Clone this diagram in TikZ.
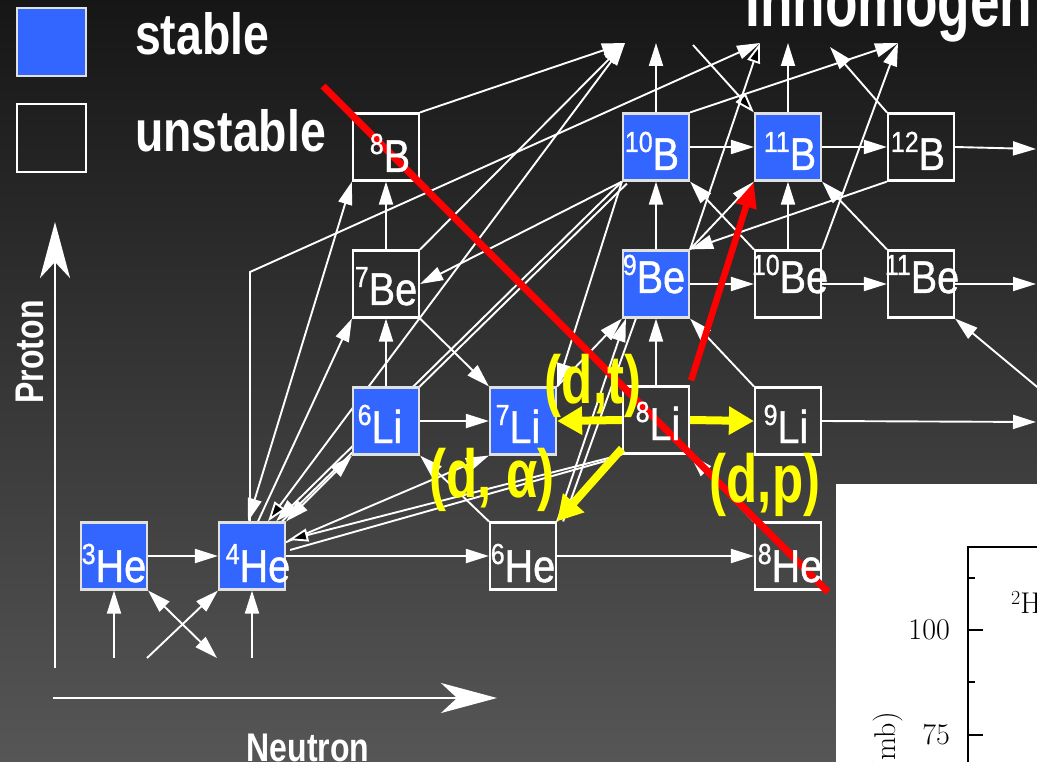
\documentclass[tikz,border=0pt]{standalone}
\usepackage{fontspec}
\newfontfamily\cond[FakeStretch=0.8]{Liberation Sans}
\newfontfamily\ycond[FakeStretch=0.75]{Liberation Sans}
\newfontfamily\tcond[FakeStretch=0.72]{Liberation Sans}
\newfontfamily\nucf[FakeStretch=0.86,FakeBold=1]{Liberation Sans}
\usetikzlibrary{arrows.meta,calc}
\pgfdeclarelayer{back}
\pgfdeclarelayer{lines}
\pgfsetlayers{back,lines,main}
\definecolor{stab}{RGB}{51,102,255}
\definecolor{boxgray}{RGB}{225,225,225}
\definecolor{bgtop}{RGB}{22,22,22}
\definecolor{bgmid}{RGB}{44,44,44}
\definecolor{bgbot}{RGB}{86,86,86}
\definecolor{ylw}{RGB}{255,255,0}
\definecolor{rd}{RGB}{255,0,0}
\newcommand\nucl[2]{\raisebox{18pt}{\fontsize{29}{29}\selectfont #1}{\fontsize{46}{46}\selectfont #2}}
\begin{document}
\begin{tikzpicture}[x=1pt,y=-1pt,
  box/.style={minimum width=66pt,minimum height=67pt,inner sep=0pt,line width=2.2pt},
  sbox/.style={box,fill=stab,draw=boxgray},
  ubox/.style={box,draw=white},
  lab/.style={text=white,anchor=base,inner sep=0pt,font=\nucf},
  con/.style={draw=white,line width=1.9pt},
  ar/.style={con,-{Triangle[length=23pt,width=14pt]}},
  arr/.style={con,{Triangle[length=23pt,width=14pt]}-{Triangle[length=23pt,width=14pt]}},
  bar/.style={con,-{Triangle[length=20pt,width=13pt,fill=black]}},
  yar/.style={draw=ylw,line width=8pt,-{Triangle[length=25pt,width=27pt]}},
  ylab/.style={text=ylw,anchor=base,inner sep=0pt,font=\ycond\bfseries\fontsize{68}{68}\selectfont},
  axis/.style={draw=white,line width=2.2pt,-{Stealth[length=56pt,width=30pt,inset=16pt]}},
  wtxt/.style={text=white,inner sep=0pt,font=\cond\bfseries\fontsize{58}{58}\selectfont},
  atxt/.style={text=white,inner sep=0pt,font=\cond\bfseries\fontsize{40}{40}\selectfont},
  ptxt/.style={text=black,inner sep=0pt,font=\fontsize{30}{30}\selectfont}]
\useasboundingbox (0,0) rectangle (1037,762);
\begin{pgfonlayer}{back}
\shade[top color=bgtop,middle color=bgmid,bottom color=bgbot] (0,0) rectangle (1037,762);
\end{pgfonlayer}

% ---------- nuclide boxes ----------
\node[sbox] (He3) at (114,556) {};
\node[sbox] (He4) at (252,556) {};
\node[ubox] (He6) at (523,556) {};
\node[ubox] (He8) at (788,556) {};
\node[sbox] (Li6) at (386,421) {};
\node[sbox] (Li7) at (523,421) {};
\node[ubox] (Li8) at (656,420) {};
\node[ubox] (Li9) at (788,421) {};
\node[ubox] (Be7) at (386,284) {};
\node[sbox] (Be9) at (656,284) {};
\node[ubox] (Be10) at (788,284) {};
\node[ubox] (Be11) at (921,284) {};
\node[ubox] (B8) at (386,147) {};
\node[sbox] (B10) at (656,147) {};
\node[sbox] (B11) at (788,147) {};
\node[ubox] (B12) at (921,147) {};

% ---------- free ends ----------
\coordinate (t1) at (625,43);
\coordinate (t2) at (656,43);
\coordinate (t3) at (693,45);
\coordinate (t4) at (760,43);
\coordinate (t5) at (788,43);
\coordinate (t6) at (830,47);
\coordinate (t7) at (898,43);
\coordinate (bend) at (250,272);
\coordinate (oB) at (1036,149);
\coordinate (oBe) at (1036,284);
\coordinate (iBe) at (1042,391);
\coordinate (oLi) at (1036,422);
\coordinate (s1) at (114,658);
\coordinate (s2) at (147,658);
\coordinate (s3) at (217,658);
\coordinate (s4) at (252,658);

\begin{pgfonlayer}{lines}
% He row
\draw[ar] (He3.east) -- (He4.west);
\draw[ar] (He4.east) -- (He6.west);
\draw[ar] (He6.east) -- (He8.west);
\draw[ar] (s1) -- (He3.south);
\draw[ar] (s4) -- (He4.south);
\draw[ar] (s2) -- (He4.south west);
\draw[arr] (He3.south east) -- (s3);
% into / out of He4 top
\draw[arr] ($(He4.north)+(-4,0)$) -- (B8.south west);
\draw[ar] ($(He4.north)+(-2,0)$) -- (bend) -- (t4);
\draw[ar] ($(He4.north)+(6,0)$) -- (Be7.south west);
\draw[con,{Triangle[length=20pt,width=13pt,fill=black]}-{Triangle[length=23pt,width=14pt]}] ($(He4.north)+(16,0)$) -- (t1);
\draw[ar] (B10.south west) -- ($(He4.north)+(24,0)$);
\draw[con] ($(B10.south west)+(5,2)$) -- ($(He4.north)+(30,0)$);
\draw[arr] (Li6.south west) -- (He4.north east);
% He4 right fan
\draw[ar] ($(He4.east)+(-2,-13)$) -- (Li7.south west);
\draw[bar] (Li8.south west) -- ($(He4.east)+(2,-16)$);
\draw[con] ($(He4.east)+(4,-6)$) -- ($(Li8.south west)+(-8,4)$);
% Li row
\draw[ar] (Li6.east) -- (Li7.west);
\draw[ar] (He6.north west) -- (Li6.south east);
\draw[ar] (Li9.east) -- (oLi);
\draw[ar] (He8.north west) -- (Li8.south east);
% Be row
\draw[ar] (Li6.north) -- (Be7.south);
\draw[ar] (Be7.south east) -- (Li7.north west);
\draw[ar] (B10.south west) -- (Be7.east);
\draw[ar] (B10.south west) -- (Li7.north east);
\draw[ar] (Li7.north east) -- (Be9.south west);
\draw[ar] (He6.north east) -- ($(Be9.south west)+(4,0)$);
\draw[con] ($(He6.north east)+(6,0)$) -- ($(Be9.south west)+(14,0)$);
\draw[ar] (Li8.north) -- (Be9.south);
\draw[ar] (Li9.north west) -- (Be9.south east);
\draw[ar] (Be9.east) -- (Be10.west);
\draw[ar] (Be10.east) -- (Be11.west);
\draw[ar] (Be11.east) -- (oBe);
\draw[ar] (iBe) -- (Be11.south east);
% B row
\draw[ar] (Be7.north) -- (B8.south);
\draw[ar] (Be9.north) -- (B10.south);
\draw[ar] (Be10.north) -- (B11.south);
\draw[ar] (B10.east) -- (B11.west);
\draw[ar] (B11.east) -- (B12.west);
\draw[ar] (B12.east) -- (oB);
\draw[ar] (Be9.north east) -- (B11.south west);
\draw[ar] (B12.south west) -- (Be9.north east);
\draw[ar] (Be10.north west) -- (B10.south east);
\draw[ar] (Be11.north west) -- (B11.south east);
% to the top
\draw[ar] (B8.north east) -- (t1);
\draw[ar] (Be7.north east) -- (t1);
\draw[ar] (B10.north) -- (t2);
\draw[bar] (t3) -- (B11.north west);
\draw[bar] (Be9.north east) -- (t4);
\draw[ar] (B11.north) -- (t5);
\draw[ar] (B12.north west) -- (t6);
\draw[ar] (B10.north east) -- (t7);
\draw[ar] (Be10.north east) -- (t7);
\end{pgfonlayer}

% ---------- red line ----------
\coordinate (r1) at (323,86);
\coordinate (r2) at (828,592);
\draw[rd,line width=7pt] (r1) -- (r2);

% ---------- labels ----------
\node[lab] (lHe3) at (114,582) {\nucl{3}{He}};
\node[lab] (lHe4) at (258,582) {\nucl{4}{He}};
\node[lab] (lHe6) at (523,582) {\nucl{6}{He}};
\node[lab] (lHe8) at (790,582) {\nucl{8}{He}};
\node[lab] (lLi6) at (380,443) {\nucl{6}{Li}};
\node[lab] (lLi7) at (518,443) {\nucl{7}{Li}};
\node[lab] (lLi8) at (658,440) {\nucl{8}{Li}};
\node[lab] (lLi9) at (786,443) {\nucl{9}{Li}};
\node[lab] (lBe7) at (386,305) {\nucl{7}{Be}};
\node[lab] (lBe9) at (654,293) {\nucl{9}{Be}};
\node[lab] (lBe10) at (790,293) {\nucl{10}{Be}};
\node[lab] (lBe11) at (922,293) {\nucl{11}{Be}};
\node[lab] (lB8) at (390,172) {\nucl{8}{B}};
\node[lab] (lB10) at (652,170) {\nucl{10}{B}};
\node[lab] (lB11) at (790,170) {\nucl{11}{B}};
\node[lab] (lB12) at (918,170) {\nucl{12}{B}};

% ---------- red and yellow arrows ----------
\draw[rd,line width=6.5pt,-{Triangle[length=26pt,width=20pt]}] ($(Li8.north east)+(1,-5)$) -- (B11.south west);
\draw[yar] (Li8.west) -- (Li7.east);
\draw[yar] (Li8.east) -- (Li9.west);
\draw[yar] ($(Li8.south west)+(0,-6)$) -- (He6.north east);
\node[ylab] (ydt) at (593,403) {(d,t)};
\node[ylab] (yda) at (492,497) {(d, α)};
\node[ylab] (ydp) at (765,502) {(d,p)};

% ---------- legend, axes, title ----------
\node[sbox,minimum width=69pt,minimum height=68pt] (legS) at (51.5,42) {};
\node[ubox,minimum width=69pt,minimum height=68pt] (legU) at (51.5,138) {};
\node[wtxt,anchor=base west] (tS) at (135,55) {stable};
\node[wtxt,anchor=base west] (tU) at (135,152) {unstable};
\node[text=white,inner sep=0pt,anchor=base west,font=\tcond\bfseries\fontsize{74}{74}\selectfont] (title) at (745,27) {Inhomogen};
\coordinate (pa0) at (55,668);
\coordinate (pa1) at (55,222);
\coordinate (na0) at (53,698);
\coordinate (na1) at (497,698);
\draw[axis] (pa0) -- (pa1);
\draw[axis] (na0) -- (na1);
\node[atxt,rotate=90,anchor=base] (tP) at (43,352) {Proton};
\node[atxt,anchor=base] (tN) at (308,761) {Neutron};

% ---------- plot panel ----------
\fill[white] (836,484) rectangle (1040,765);
\draw[black,line width=1.6pt] (968,765) -- (968,547) -- (1040,547);
\draw[black,line width=1.6pt] (968,578) -- (975,578);
\draw[black,line width=1.6pt] (968,630) -- (983,630);
\draw[black,line width=1.6pt] (968,682) -- (975,682);
\draw[black,line width=1.6pt] (968,735) -- (983,735);
\node[ptxt,anchor=east] (n100) at (950,630) {100};
\node[ptxt,anchor=east] (n75) at (950,735) {75};
\node[ptxt,rotate=90,anchor=east] (nmb) at (888,712) {(mb)};
\node[ptxt,anchor=base west] (n2H) at (1011,613) {\raisebox{9pt}{\fontsize{20}{20}\selectfont 2}H};
\end{tikzpicture}
\end{document}
